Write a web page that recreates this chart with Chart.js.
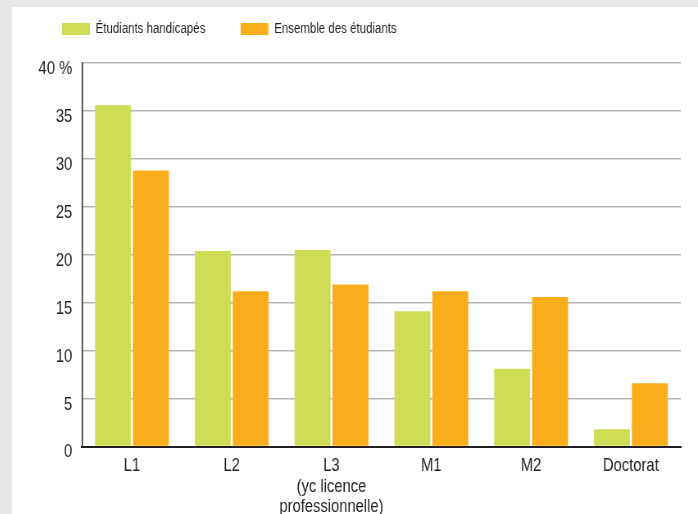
<!DOCTYPE html>
<html>
<head>
<meta charset="utf-8">
<script src="https://cdn.jsdelivr.net/npm/chart.js@4"></script>
<style>
  html, body { margin: 0; padding: 0; background: #e6e7e8; width: 698px; height: 514px; overflow: hidden; }
  #frame { position: absolute; left: 12px; top: 7px; width: 686px; height: 507px; background: #fff; overflow: hidden; }
  /* Liberation Sans squeezed to 82% gives the narrow face of the original */
  #chart { transform: scaleX(0.8196); transform-origin: 0 0; }
</style>
</head>
<body>
<div id="frame"><canvas id="chart" width="837" height="507"></canvas></div>
<script>
// Répartition par cursus (en %)
const categories = ['L1', 'L2', ['L3', '(yc licence', 'professionnelle)'], 'M1', 'M2', 'Doctorat'];
const handicapes = [35.6, 20.4, 20.5, 14.1, 8.1, 1.8];
const ensemble = [28.8, 16.2, 16.9, 16.2, 15.6, 6.6];
const yTicks = [0, 5, 10, 15, 20, 25, 30, 35, 40];
const yTickLabels = ['0', '5', '10', '15', '20', '25', '30', '35', '40 %'];

const FONT = "'Liberation Sans', Arial, sans-serif";
const TEXT = '#231f20';

// legend sits higher than the room it reserves
const legendShift = {
    id: 'legendShift',
    afterLayout(chart) {
        chart.legend.top -= 28;
    }
};

new Chart(document.getElementById('chart'), {
    type: 'bar',
    data: {
        labels: categories,
        datasets: [
            { label: 'Étudiants handicapés', data: handicapes, backgroundColor: '#cedd55' },
            { label: 'Ensemble des étudiants', data: ensemble, backgroundColor: '#f9ad1a' }
        ]
    },
    options: {
        responsive: false,
        devicePixelRatio: 1,
        animation: false,
        categoryPercentage: 0.76,
        barPercentage: 0.947,
        layout: { padding: { left: 18, right: 21, top: 0, bottom: 0 } },
        plugins: {
            legend: {
                position: 'top',
                align: 'start',
                maxHeight: 56,
                labels: {
                    boxWidth: 34,
                    boxHeight: 12,
                    padding: 43,
                    color: TEXT,
                    font: { family: FONT, size: 14 }
                }
            },
            tooltip: { enabled: false }
        },
        scales: {
            x: {
                grid: { display: false },
                border: { color: TEXT, width: 2 },
                ticks: {
                    color: TEXT,
                    padding: 1,
                    maxRotation: 0,
                    autoSkip: false,
                    font: { family: FONT, size: 18, lineHeight: 1.15 }
                },
                afterFit: s => { s.height = 67.5; }
            },
            y: {
                min: 0,
                max: 40,
                afterBuildTicks: s => { s.ticks = yTicks.map(v => ({ value: v })); },
                grid: { color: '#b5b5b5', lineWidth: 1.5, drawTicks: false },
                border: { color: TEXT, width: 1.5 },
                ticks: {
                    color: TEXT,
                    padding: 12,
                    labelOffset: 6,
                    font: { family: FONT, size: 18 },
                    callback: (v) => yTickLabels[yTicks.indexOf(v)]
                },
                afterFit: s => { s.width = 67.4; }
            }
        }
    },
    plugins: [legendShift]
});
</script>
</body>
</html>
